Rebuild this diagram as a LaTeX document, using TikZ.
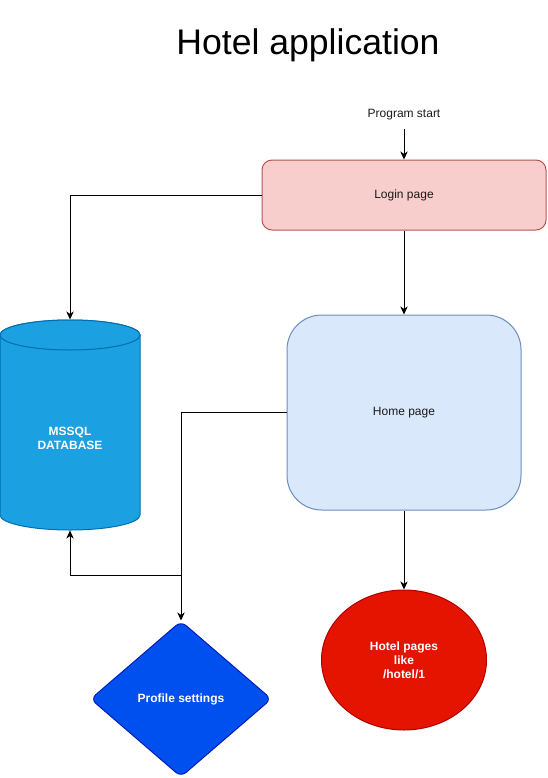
\documentclass[tikz,border=0pt]{standalone}
\usepackage{fontspec}
\setmainfont{Liberation Sans}
\usetikzlibrary{shapes.geometric,arrows.meta}

\definecolor{loginfill}{HTML}{F8CECC}
\definecolor{loginline}{HTML}{B85450}
\definecolor{homefill}{HTML}{DAE8FC}
\definecolor{homeline}{HTML}{6C8EBF}
\definecolor{dbfill}{HTML}{1BA1E2}
\definecolor{dbline}{HTML}{006EAF}
\definecolor{proffill}{HTML}{0050EF}
\definecolor{profline}{HTML}{001DBC}
\definecolor{hotelfill}{HTML}{E51400}
\definecolor{hotelline}{HTML}{B20000}
\definecolor{labeltext}{HTML}{1A1A1A}

\tikzset{
  base/.style={line width=0.75pt, inner sep=0pt, align=center,
    font=\fontsize{9}{10.5}\selectfont, text=labeltext},
  pagebox/.style={base, rectangle, draw=#1line, fill=#1fill},
  whitelabel/.style={font=\fontsize{9}{10.5}\selectfont\bfseries, text=white},
  arr/.style={line width=0.75pt, -{Stealth[length=6pt,width=5.5pt,inset=1.8pt]}},
}

\begin{document}
\begin{tikzpicture}[x=0.75pt,y=0.75pt]
  \useasboundingbox (0,0) rectangle (547,-778);

  % heading
  \node[font=\fontsize{26.7}{30}\selectfont] (title) at (308,-45) {Hotel application};

  % entry label
  \node[base] (start) at (404,-115) {Program start};
  \coordinate (entry) at (404,-129);

  % pages
  \node[pagebox=login, rounded corners=7.5pt,
        minimum width=284*0.75pt, minimum height=70*0.75pt]
        (login) at (404,-195) {Login page};
  \node[pagebox=home, rounded corners=26pt,
        minimum width=234*0.75pt, minimum height=195*0.75pt]
        (home) at (404,-412.5) {Home page};
  \node[base, ellipse, draw=hotelline, fill=hotelfill, whitelabel,
        minimum width=165*0.75pt, minimum height=140*0.75pt]
        (hotel) at (404,-660) {Hotel pages\\like\\/hotel/1};
  \node[base, diamond, draw=profline, fill=proffill, whitelabel,
        rounded corners=5pt, aspect=1.158,
        minimum width=181*0.75pt, minimum height=156*0.75pt]
        (prof) at (181,-699) {Profile settings};

  % database cylinder
  \fill[dbfill, draw=dbline, line width=0.75pt]
    (0,-335) -- (0,-515) arc (180:360:70 and 15) -- (140,-335)
    arc (0:180:70 and 15) -- cycle;
  \draw[dbline, line width=0.75pt, fill=dbfill] (70,-335) ellipse (70 and 15);
  \node[base, minimum width=140*0.75pt, minimum height=210*0.75pt]
    (db) at (70,-425) {};
  \node[base, whitelabel] (dblabel) at (70,-438) {MSSQL\\DATABASE};

  % connectors
  \coordinate (split) at (181,-575);
  \draw[arr] (entry) -- (login.north);
  \draw[arr] (login.south) -- (home.north);
  \draw[arr] (home.south) -- (hotel.north);
  \draw[arr] (login.west) -| (db.north);
  \draw[arr] (home.west) -| (prof.north);
  \draw[arr] (home.west) -| (split) -| (db.south);
\end{tikzpicture}
\end{document}
